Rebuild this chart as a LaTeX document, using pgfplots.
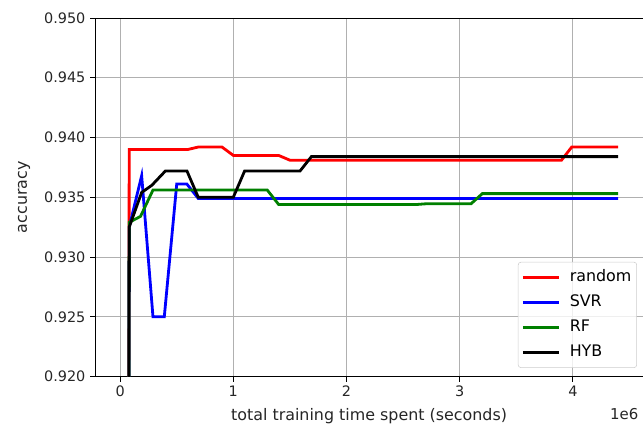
\documentclass[border=0pt]{standalone}
\usepackage{pgfplots}
\pgfplotsset{compat=1.18}
\usepackage{fontspec}
\setmainfont{DejaVu Sans}
\definecolor{mplgreen}{HTML}{008000}
\definecolor{gridgray}{HTML}{B0B0B0}
\begin{document}
\begin{tikzpicture}
\begin{axis}[
  scale only axis,
  width=410.25pt, height=268.5pt,
  xmin=-0.221, xmax=4.62,
  ymin=0.920, ymax=0.950,
  xtick={0,1,2,3,4},
  ytick={0.920,0.925,0.930,0.935,0.940,0.945,0.950},
  /pgf/number format/assume math mode=true,
  yticklabel style={/pgf/number format/.cd,fixed,fixed zerofill,precision=3},
  scaled y ticks=false,
  tick label style={font=\fontsize{10.8}{13}\selectfont, color=black!85},
  label style={font=\fontsize{11.9}{14}\selectfont, color=black!85},
  ylabel style={xshift=0pt, yshift=3.5pt},
  xlabel style={yshift=-1.5pt},
  tick align=outside, tick pos=left,
  major tick length=3.75pt,
  tick style={black, line width=0.6pt},
  axis line style={black, line width=0.6pt},
  grid=major,
  grid style={gridgray, line width=0.6pt},
  xlabel={total training time spent (seconds)},
  ylabel={accuracy},
  legend style={draw=black!20, rounded corners=2pt, fill=white, fill opacity=0.8, text opacity=1,
    font=\fontsize{11.9}{14}\selectfont, at={(axis description cs:1,0)}, anchor=south east,
    xshift=-4.5pt, yshift=6.5pt, row sep=3.1pt, column sep=5.5pt,
    inner xsep=2.5pt, inner ysep=3.8pt,
    nodes={text height=9pt, text depth=2.5pt, inner xsep=1.5pt, inner ysep=2pt}},
  legend cell align=left,
  legend image code/.code={\draw[#1] (0pt,0pt) -- (27pt,0pt);},
  clip=true,
]
\addplot[red, line width=2.1pt] coordinates {
(0,0.5) (0.08,0.9390) (0.60,0.9390) (0.69,0.9392) (0.90,0.9392) (1.00,0.9385) (1.40,0.9385)
(1.50,0.9381) (3.90,0.9381) (3.99,0.9392) (4.40,0.9392)};
\addlegendentry{random}
\addplot[blue, line width=2.1pt] coordinates {
(0,0.5) (0.08,0.9325) (0.19,0.9368) (0.29,0.9250) (0.39,0.9250) (0.50,0.9361) (0.59,0.9361)
(0.69,0.9349) (4.40,0.9349)};
\addlegendentry{SVR}
\addplot[mplgreen, line width=2.1pt] coordinates {
(0,0.5) (0.08,0.9329) (0.18,0.9334) (0.29,0.9356) (1.30,0.9356) (1.40,0.9344) (2.63,0.9344)
(2.70,0.93445) (3.10,0.93445) (3.20,0.9353) (4.40,0.9353)};
\addlegendentry{RF}
\addplot[black, line width=2.1pt] coordinates {
(0,0.5) (0.08,0.9325) (0.19,0.9354) (0.28,0.9360) (0.40,0.9372) (0.59,0.9372) (0.69,0.9350)
(1.00,0.9350) (1.10,0.9372) (1.59,0.9372) (1.69,0.9384) (4.40,0.9384)};
\addlegendentry{HYB}
\end{axis}
\node[font=\fontsize{11.2}{13}\selectfont, color=black!85, anchor=base east] at ([yshift=-32pt]current axis.south east) {1e6};
\pgfresetboundingbox
\useasboundingbox ([xshift=-71.25pt,yshift=-38.25pt]current axis.south west) rectangle ([yshift=13.5pt]current axis.north east);
\end{tikzpicture}
\end{document}
